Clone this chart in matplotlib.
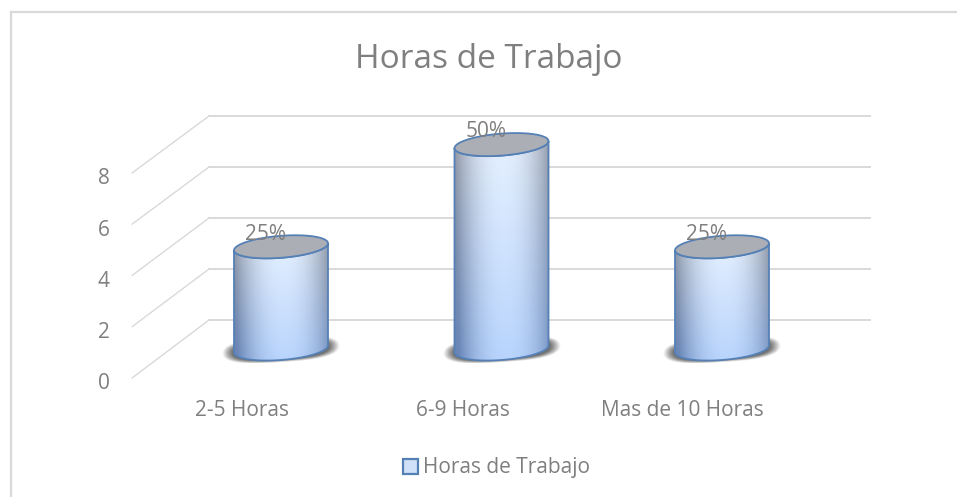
import numpy as np
import matplotlib
matplotlib.use('Agg')
import matplotlib.pyplot as plt
from matplotlib.patches import PathPatch, Patch, ConnectionPatch
from matplotlib.lines import Line2D
from matplotlib.path import Path
from matplotlib.transforms import IdentityTransform, ScaledTranslation

categories = ['2-5 Horas', '6-9 Horas', 'Mas de 10 Horas']
values = [4, 8, 4]
labels = ['25%', '50%', '25%']
y_ticks = [0, 2, 4, 6, 8]
title = 'Horas de Trabajo'

W, H = 957, 497
plt.rcParams['font.family'] = ['Open Sans', 'DejaVu Sans']
GREY = '#7f7f7f'
GRID = '#d9d9d9'
EDGE = '#5580b5'

fig = plt.figure(figsize=(W / 100, H / 100), dpi=100, facecolor='white')


# axes placed by pixel box, y axis runs 0-8
def plane(left, right, px0, px8):
    ax = fig.add_axes([left / W, 1 - px0 / H, (right - left) / W, (px0 - px8) / H])
    ax.set_xlim(-0.5, 2.5)
    ax.set_ylim(0, 8)
    ax.patch.set_visible(False)
    for s in ax.spines.values():
        s.set_visible(False)
    return ax


front = plane(132, 793, 378, 173)
back = plane(209, 870, 320, 116)

# back wall grid and the diagonals on the side wall
back.set_xticks([])
back.set_yticks([])
for v in y_ticks:
    back.axhline(v, color=GRID, lw=1.4, clip_on=False)
    fig.add_artist(ConnectionPatch((-0.5, v), (-0.5, v), 'data', 'data', axesA=front, axesB=back,
                                   color=GRID, lw=1.0))

front.set_xticks(range(3))
front.set_xticklabels(categories, fontsize=15, color=GREY)
front.set_yticks(y_ticks)
front.set_yticklabels(y_ticks, fontsize=15, color=GREY)
front.tick_params(length=0)
front.tick_params(axis='x', pad=16)
front.tick_params(axis='y', pad=16)
# value labels sit a little under the end of their grid line
for t in front.get_yticklabels():
    t.set_transform(t.get_transform() + ScaledTranslation(0, -2.5 / 72, fig.dpi_scale_trans))

# full figure axes for the cylinders, x=i sits at the cylinder centre
X0, XSTEP, Y0, YSTEP = 281, 220.5, 349, 25.55
mid = fig.add_axes([0, 0, 1, 1])
mid.axis('off')
mid.patch.set_visible(False)


def set_mid_limits():
    mid.set_xlim(-X0 / XSTEP, (W - X0) / XSTEP)
    mid.set_ylim((Y0 - H) / YSTEP, Y0 / YSTEP)


set_mid_limits()

# only the top and left edges of the chart frame show
fig.add_artist(Line2D([11 / W, 1], [1 - 12 / H, 1 - 12 / H], color=GRID, lw=1.6))
fig.add_artist(Line2D([11 / W, 11 / W], [0, 1 - 12 / H], color=GRID, lw=1.6))

hw, hh, tilt = 47.0, 11.0, np.radians(4.3)


def ellipse_pts(cx, cy, a0, a1):
    t = np.linspace(a0, a1, 60)
    x, y = hw * np.cos(t), hh * np.sin(t)
    return np.column_stack([cx + x, cy + x * np.sin(tilt) + y])


# body shading, grey sides and a light blue middle
nx, ny = 200, 200
u = np.linspace(-1, 1, nx)[None, :]
w = np.linspace(0, 1, ny)[:, None]
side = np.clip(np.abs(u - (0.1 - 0.1 * w)) ** 2.2, 0, 1)
low = np.array([0.72, 0.83, 0.99])
high = np.array([0.91, 0.95, 1.0])
edge_low = np.array([0.40, 0.52, 0.72])
edge_high = np.array([0.58, 0.60, 0.64])
shade = np.zeros((ny, nx, 3))
for c in range(3):
    mid_col = low[c] + (high[c] - low[c]) * w
    edge_col = edge_low[c] + (edge_high[c] - edge_low[c]) * w
    shade[:, :, c] = mid_col + (edge_col - mid_col) * side

# soft shadow on the floor, tilted like the cylinder
sx = np.linspace(-1.05, 1.05, 140)[None, :]
sy = np.linspace(-1.05, 1.05, 80)[:, None]
r2 = np.abs(sx) ** 3 + np.abs(sy - 0.3 * sx) ** 2.4
sh = np.zeros((80, 140, 4))
sh[:, :, :3] = 0.38
sh[:, :, 3] = np.clip((1 - r2) / 0.45, 0, 1) * 0.9

for i, (v, lab) in enumerate(zip(values, labels)):
    bx, by = mid.transData.transform((i, 0))
    tx, ty = mid.transData.transform((i, v))

    mid.imshow(sh, origin='lower', extent=(i - 62 / XSTEP, i + 62 / XSTEP, -14 / YSTEP, 13 / YSTEP),
               aspect='auto', zorder=2, interpolation='bilinear')

    top_pts = ellipse_pts(tx, ty, np.pi, 2 * np.pi)
    bot_pts = ellipse_pts(bx, by, 2 * np.pi, np.pi)
    body = Path(np.vstack([top_pts, bot_pts, top_pts[:1]]))
    im = mid.imshow(shade, origin='lower', extent=(i - 48 / XSTEP, i + 48 / XSTEP, -0.6, v + 0.6),
                    aspect='auto', zorder=3, interpolation='bilinear')
    im.set_clip_path(PathPatch(body, transform=IdentityTransform()))
    mid.add_patch(PathPatch(body, transform=IdentityTransform(), fc='none', ec=EDGE, lw=1.3, zorder=4))
    cap = Path(ellipse_pts(tx, ty, 0, 2 * np.pi))
    mid.add_patch(PathPatch(cap, transform=IdentityTransform(), fc='#abaeb5', ec=EDGE, lw=1.3, zorder=5))
    mid.annotate(lab, (i, v), xytext=(-11.2, 9.2), textcoords='offset points', ha='center', va='center',
                 fontsize=15, color=GREY, zorder=6)

set_mid_limits()

fig.text(489 / W, 1 - 68 / H, title, ha='center', va='baseline', fontsize=24, color=GREY)

handle = Patch(fc='#cfe0f9', ec=EDGE, lw=1.6)
mid.legend(handles=[handle], labels=[title], loc='center', bbox_to_anchor=(496.5 / W, 1 - 468 / H),
           bbox_transform=fig.transFigure, frameon=False, fontsize=15, labelcolor=GREY,
           handlelength=0.72, handleheight=0.72, handletextpad=0.2)

fig.savefig('out.png', dpi=100)
